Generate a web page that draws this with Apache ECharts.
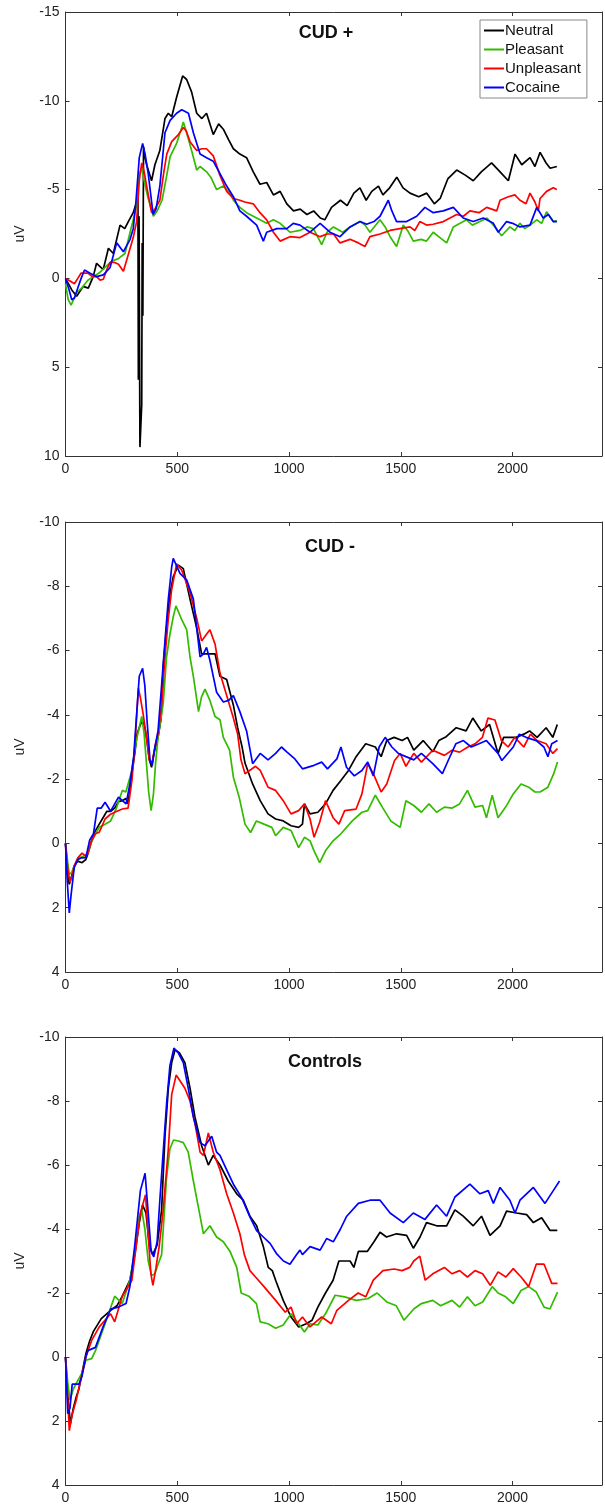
<!DOCTYPE html>
<html>
<head>
<meta charset="utf-8">
<script src="https://cdn.jsdelivr.net/npm/echarts@6/dist/echarts.min.js"></script>
<style>
html,body{margin:0;padding:0;background:#fff;}
#chart{width:605px;height:1509px;}
</style>
</head>
<body>
<div id="chart"></div>
<script>
var conditionNames = ["Neutral","Pleasant","Unpleasant","Cocaine"];
var conditionColors = ["#000000","#33bb00","#ff0000","#0000ff"];
var xTicks = [0,500,1000,1500,2000];

// CUD + ([ms, uV])
var cudPosNeutral = [[0,0],[28,0.65],[50,1.0],[79,0.45],[102,0.55],[124,-0.1],[139,-0.85],[169,-0.5],[192,-1.7],[214,-1.4],[244,-3],[265,-2.8],[281,-3.2],[303,-3.7],[318,-4.3],[324,-4.8],[326,5.7],[329,-3.5],[333,9.5],[337,9.4],[341,7.1],[343,-2],[346,2.1],[349,-7.4],[356,-6.8],[363,-6.4],[385,-5.5],[400,-6.4],[422,-7.2],[445,-9.0],[460,-9.3],[475,-9.1],[497,-10.2],[524,-11.4],[542,-11.2],[564,-10.5],[587,-9.3],[610,-9.0],[631,-9.3],[661,-8.1],[685,-8.7],[706,-8.4],[730,-7.8],[751,-7.3],[780,-7.0],[810,-6.8],[840,-6.0],[870,-5.3],[900,-5.4],[930,-4.7],[960,-4.9],[990,-4.2],[1020,-3.8],[1050,-3.9],[1080,-3.6],[1110,-3.8],[1140,-3.4],[1160,-3.3],[1190,-4.0],[1230,-4.4],[1260,-4.1],[1290,-4.8],[1317,-5.1],[1345,-4.4],[1370,-4.9],[1400,-5.2],[1420,-4.7],[1450,-5.1],[1482,-5.7],[1510,-5.1],[1541,-4.8],[1580,-4.6],[1616,-4.8],[1650,-4.2],[1676,-4.5],[1710,-5.6],[1750,-6.1],[1790,-5.8],[1824,-5.5],[1860,-6.0],[1906,-6.5],[1944,-6.0],[1981,-5.5],[2011,-7.0],[2041,-6.4],[2078,-6.8],[2100,-6.3],[2123,-7.1],[2150,-6.5],[2168,-6.2],[2198,-6.3]];
var cudPosPleasant = [[0,0.3],[12,1.2],[25,1.5],[50,0.8],[75,0.5],[100,0.1],[125,-0.1],[150,-0.3],[184,-0.7],[210,-1.0],[235,-1.1],[266,-1.4],[289,-2.6],[303,-3.3],[318,-4.1],[330,-5.9],[341,-6.2],[355,-5.3],[370,-4.5],[393,-3.5],[410,-3.8],[432,-4.4],[450,-5.6],[468,-6.85],[497,-7.6],[520,-8.5],[527,-8.8],[542,-8.2],[564,-7.2],[587,-6.1],[602,-6.3],[631,-6.0],[650,-5.7],[676,-5.0],[706,-5.2],[736,-4.8],[751,-4.4],[780,-4.0],[810,-3.7],[840,-3.5],[870,-3.3],[900,-3.1],[930,-3.3],[960,-3.1],[1004,-2.6],[1049,-2.7],[1080,-2.9],[1109,-2.8],[1146,-1.9],[1170,-2.6],[1199,-2.9],[1240,-2.6],[1273,-2.9],[1318,-3.2],[1340,-3.0],[1362,-2.6],[1407,-3.3],[1430,-2.9],[1452,-2.35],[1481,-1.8],[1511,-3.0],[1530,-2.7],[1556,-2.1],[1590,-2.2],[1615,-2.1],[1645,-2.6],[1675,-2.3],[1705,-2.0],[1735,-2.9],[1765,-3.1],[1794,-3.3],[1820,-3.0],[1854,-3.2],[1885,-3.4],[1914,-3.0],[1951,-2.4],[1988,-2.9],[2010,-2.7],[2033,-3.1],[2055,-2.8],[2078,-3.0],[2108,-3.3],[2130,-3.1],[2152,-3.75],[2182,-3.2],[2198,-3.25]];
var cudPosUnpleasant = [[0,0],[15,0.1],[40,0.3],[55,0.0],[70,-0.3],[100,-0.3],[120,-0.1],[139,-0.1],[155,0.1],[169,0.05],[185,-0.5],[199,-0.9],[220,-0.9],[237,-0.8],[259,-0.4],[281,-1.35],[303,-2.3],[318,-3.2],[330,-5.5],[341,-6.5],[352,-6.0],[363,-5.2],[385,-3.7],[400,-3.9],[422,-4.4],[440,-6.0],[453,-7.0],[475,-7.7],[505,-8.1],[527,-8.5],[540,-8.3],[557,-7.7],[587,-7.2],[610,-7.3],[631,-7.3],[661,-6.9],[691,-5.8],[721,-4.9],[751,-4.5],[780,-4.4],[802,-4.3],[840,-4.2],[870,-3.7],[900,-3.3],[930,-2.6],[960,-2.1],[1004,-2.35],[1049,-2.3],[1094,-2.6],[1139,-2.35],[1170,-2.5],[1199,-2.5],[1228,-2.0],[1273,-2.2],[1310,-2.0],[1340,-1.8],[1362,-2.35],[1407,-2.5],[1452,-2.7],[1496,-2.8],[1541,-2.9],[1563,-2.7],[1585,-3.2],[1615,-3.0],[1645,-3.05],[1690,-3.2],[1720,-3.4],[1750,-3.6],[1780,-3.5],[1809,-3.8],[1850,-3.7],[1884,-4.0],[1929,-3.8],[1944,-4.4],[1981,-4.6],[2010,-4.7],[2033,-4.4],[2060,-4.2],[2078,-4.8],[2100,-4.3],[2115,-3.8],[2123,-4.5],[2152,-4.9],[2182,-5.1],[2198,-5.0]];
var cudPosCocaine = [[0,0],[15,0.6],[28,1.2],[40,1.1],[56,0.5],[70,0.0],[85,-0.47],[108,-0.3],[139,-0.1],[169,-0.2],[199,-0.6],[229,-2.0],[259,-1.5],[289,-2.2],[303,-2.8],[315,-4.3],[330,-6.8],[345,-7.6],[356,-7.0],[370,-5.9],[392,-3.6],[405,-3.9],[422,-5.2],[445,-8.2],[468,-8.9],[497,-9.3],[520,-9.5],[550,-9.3],[572,-8.2],[602,-7.0],[631,-6.8],[661,-6.6],[691,-5.9],[721,-5.2],[751,-4.6],[780,-3.8],[810,-3.5],[855,-3.0],[885,-2.1],[900,-2.6],[945,-2.8],[990,-2.8],[1019,-3.1],[1049,-3.0],[1094,-2.6],[1139,-3.1],[1183,-2.6],[1228,-2.35],[1273,-2.9],[1318,-3.2],[1347,-3.05],[1380,-3.2],[1407,-3.5],[1444,-4.4],[1460,-3.8],[1481,-3.2],[1526,-3.2],[1571,-3.5],[1608,-4.0],[1645,-3.7],[1690,-3.8],[1735,-4.0],[1779,-3.4],[1824,-3.2],[1869,-3.4],[1914,-3.1],[1936,-2.6],[1973,-3.2],[2000,-3.1],[2033,-2.9],[2078,-3.0],[2108,-4.0],[2137,-3.4],[2160,-3.6],[2182,-3.2],[2198,-3.2]];

// CUD -
var cudNegNeutral = [[0,0],[10,1.0],[17,1.27],[28,1.0],[39,0.7],[55,0.55],[74,0.6],[91,0.5],[100,0.33],[117,-0.08],[134,-0.4],[151,-0.6],[168,-0.8],[185,-1.0],[202,-1.0],[220,-1.1],[237,-1.3],[254,-1.33],[270,-1.4],[280,-1.23],[297,-2.2],[310,-2.8],[320,-3.4],[335,-3.7],[345,-3.8],[355,-3.6],[365,-3.2],[375,-2.6],[385,-2.37],[395,-2.8],[414,-3.3],[428,-3.9],[437,-5.5],[452,-6.7],[466,-7.7],[482,-8.3],[505,-8.66],[527,-8.55],[557,-7.6],[587,-6.7],[609,-5.9],[630,-5.9],[646,-5.9],[669,-5.9],[691,-5.2],[721,-5.1],[751,-4.3],[770,-3.6],[790,-3.0],[803,-2.5],[837,-1.85],[871,-1.33],[906,-0.92],[940,-0.76],[974,-0.7],[1009,-0.55],[1043,-0.5],[1060,-0.6],[1069,-1.23],[1094,-0.92],[1129,-0.97],[1163,-1.23],[1197,-1.65],[1232,-1.96],[1266,-2.27],[1300,-2.7],[1343,-3.1],[1386,-3.0],[1412,-2.7],[1437,-3.2],[1470,-3.3],[1506,-3.2],[1530,-3.3],[1558,-2.9],[1600,-3.2],[1643,-2.85],[1670,-3.2],[1703,-3.32],[1748,-3.6],[1792,-3.5],[1822,-3.9],[1860,-3.5],[1897,-3.7],[1935,-2.8],[1960,-3.3],[2016,-3.3],[2050,-3.4],[2076,-3.5],[2110,-3.3],[2150,-3.6],[2180,-3.3],[2200,-3.7]];
var cudNegPleasant = [[0,0],[10,0.6],[17,0.96],[28,0.9],[39,0.7],[55,0.5],[65,0.44],[80,0.4],[100,0.3],[117,-0.05],[134,-0.3],[151,-0.5],[177,-0.6],[202,-0.7],[228,-1.1],[254,-1.65],[270,-1.6],[297,-2.27],[310,-2.9],[320,-3.3],[333,-3.7],[341,-3.95],[352,-3.4],[362,-2.5],[372,-1.6],[383,-1.02],[393,-1.5],[403,-2.5],[414,-3.3],[437,-4.35],[452,-5.8],[467,-6.5],[482,-7.05],[494,-7.39],[520,-6.96],[542,-6.65],[557,-5.8],[572,-5.2],[595,-4.1],[609,-4.57],[624,-4.8],[646,-4.45],[669,-3.95],[691,-3.85],[706,-3.3],[734,-2.9],[751,-2.06],[777,-1.44],[803,-0.6],[828,-0.34],[854,-0.7],[888,-0.6],[923,-0.5],[940,-0.24],[974,-0.5],[1009,-0.4],[1043,0.13],[1069,-0.19],[1094,-0.08],[1112,0.23],[1137,0.6],[1163,0.23],[1197,-0.08],[1232,-0.3],[1283,-0.7],[1326,-0.97],[1352,-1.02],[1386,-1.5],[1420,-1.1],[1455,-0.7],[1497,-0.5],[1523,-1.33],[1558,-1.18],[1592,-0.97],[1626,-1.23],[1660,-0.97],[1695,-1.13],[1730,-1.1],[1763,-1.23],[1798,-1.65],[1832,-1.13],[1866,-1.18],[1883,-0.8],[1909,-1.5],[1935,-0.8],[1969,-1.13],[2003,-1.54],[2038,-1.85],[2072,-1.75],[2100,-1.6],[2123,-1.6],[2158,-1.75],[2184,-2.17],[2201,-2.53]];
var cudNegUnpleasant = [[0,0],[10,0.8],[20,1.2],[30,1.0],[39,0.7],[55,0.45],[74,0.3],[91,0.4],[100,0.3],[117,-0.1],[134,-0.3],[151,-0.35],[177,-0.76],[200,-0.9],[220,-0.97],[254,-1.07],[280,-1.1],[297,-1.95],[310,-3.0],[326,-4.83],[336,-4.5],[348,-4.0],[360,-3.4],[375,-2.6],[388,-2.5],[400,-3.0],[414,-3.4],[430,-4.3],[445,-5.8],[460,-7.0],[475,-7.9],[497,-8.7],[520,-8.5],[557,-7.8],[587,-7.0],[609,-6.3],[630,-6.5],[646,-6.65],[669,-6.2],[691,-5.3],[721,-4.6],[751,-3.9],[770,-3.4],[785,-2.6],[803,-2.17],[830,-2.3],[850,-2.4],[871,-2.27],[906,-1.75],[940,-1.65],[974,-1.33],[1009,-0.92],[1043,-1.02],[1069,-1.23],[1094,-0.76],[1112,-0.19],[1137,-0.66],[1163,-1.33],[1197,-0.8],[1223,-0.6],[1249,-1.02],[1300,-1.07],[1326,-1.54],[1352,-2.48],[1377,-2.17],[1412,-1.6],[1437,-1.85],[1472,-2.58],[1497,-2.8],[1523,-2.4],[1558,-2.8],[1592,-2.53],[1643,-2.9],[1695,-2.74],[1729,-2.9],[1763,-2.84],[1800,-3.0],[1832,-3.1],[1865,-3.3],[1890,-3.9],[1921,-3.84],[1950,-3.2],[1980,-3.0],[2010,-3.3],[2050,-3.0],[2080,-3.4],[2110,-3.2],[2150,-3.1],[2180,-2.8],[2201,-2.95]];
var cudNegCocaine = [[0,0],[8,1.2],[17,2.16],[25,1.6],[39,0.75],[55,0.5],[70,0.45],[91,0.44],[108,-0.1],[125,-0.3],[142,-1.1],[160,-1.1],[177,-1.28],[202,-1.0],[237,-1.44],[271,-1.23],[288,-1.85],[305,-2.7],[318,-4.0],[330,-5.2],[345,-5.45],[355,-4.9],[365,-3.8],[378,-2.6],[388,-2.43],[400,-3.0],[414,-3.5],[428,-4.75],[445,-6.3],[460,-7.6],[475,-8.6],[482,-8.87],[512,-8.4],[542,-8.2],[572,-7.6],[602,-5.8],[617,-5.9],[631,-6.1],[646,-5.7],[676,-4.7],[706,-4.4],[730,-4.45],[751,-4.6],[780,-4.1],[810,-3.5],[837,-2.48],[871,-2.8],[906,-2.6],[940,-2.8],[966,-3.0],[991,-2.84],[1026,-2.63],[1060,-2.32],[1112,-2.43],[1146,-2.53],[1172,-2.32],[1214,-2.63],[1232,-3.0],[1257,-2.37],[1292,-2.1],[1326,-2.27],[1352,-2.53],[1377,-2.1],[1403,-3.0],[1430,-3.3],[1460,-3.0],[1489,-2.8],[1523,-2.7],[1558,-2.6],[1592,-2.8],[1643,-2.48],[1686,-2.17],[1712,-2.58],[1746,-3.1],[1780,-3.2],[1815,-3.0],[1850,-3.1],[1883,-3.2],[1935,-2.8],[1952,-2.58],[2003,-3.0],[2030,-3.4],[2060,-3.3],[2106,-3.2],[2140,-3.0],[2158,-2.7],[2175,-3.1],[2201,-3.2]];

// Controls
var ctrlNeutral = [[0,0],[10,1.2],[22,2.08],[35,1.6],[48,1.25],[60,1.0],[74,0.5],[91,-0.1],[108,-0.5],[125,-0.8],[160,-1.2],[202,-1.46],[230,-1.6],[254,-1.9],[288,-2.4],[310,-3.2],[330,-4.2],[345,-4.75],[360,-4.5],[375,-3.5],[390,-3.2],[410,-3.5],[430,-4.6],[445,-6.9],[460,-8.4],[475,-9.2],[490,-9.6],[510,-9.5],[534,-9.2],[557,-8.4],[579,-7.5],[609,-6.6],[639,-6.0],[661,-6.3],[691,-6.0],[728,-5.5],[766,-5.1],[795,-4.9],[825,-4.4],[855,-4.1],[885,-3.45],[907,-2.8],[925,-2.7],[940,-2.4],[974,-1.77],[1009,-1.25],[1043,-0.94],[1077,-1.04],[1103,-1.15],[1129,-1.56],[1163,-2.0],[1197,-2.4],[1223,-3.0],[1250,-3.0],[1273,-3.0],[1290,-2.8],[1310,-3.3],[1350,-3.3],[1380,-3.6],[1407,-3.9],[1436,-3.75],[1481,-3.85],[1526,-3.8],[1556,-3.4],[1586,-3.75],[1615,-4.2],[1660,-4.1],[1705,-4.1],[1742,-4.6],[1779,-4.4],[1824,-4.1],[1861,-4.4],[1899,-3.8],[1944,-4.1],[1973,-4.56],[2018,-4.5],[2063,-4.45],[2093,-4.2],[2130,-4.35],[2167,-3.96],[2200,-3.96]];
var ctrlPleasant = [[0,0],[10,0.8],[20,1.35],[35,1.0],[50,0.8],[74,0.5],[91,0.1],[117,0.05],[134,-0.2],[155,-0.6],[177,-1.04],[200,-1.5],[220,-1.9],[254,-1.67],[288,-2.4],[310,-3.3],[330,-4.4],[341,-4.6],[355,-4.0],[370,-3.0],[385,-2.55],[400,-2.6],[414,-2.9],[430,-3.2],[452,-5.6],[467,-6.5],[483,-6.78],[505,-6.75],[527,-6.7],[549,-6.4],[572,-5.5],[594,-4.7],[617,-3.85],[646,-4.1],[676,-3.75],[706,-3.6],[736,-3.3],[766,-2.8],[786,-2.0],[820,-1.9],[854,-1.67],[871,-1.1],[906,-1.04],[940,-0.9],[974,-1.0],[1009,-1.35],[1043,-1.04],[1069,-0.78],[1094,-1.04],[1129,-1.0],[1163,-1.35],[1206,-1.93],[1249,-1.88],[1300,-1.77],[1352,-1.82],[1394,-2.0],[1437,-1.72],[1480,-1.6],[1514,-1.15],[1558,-1.5],[1592,-1.67],[1643,-1.77],[1678,-1.6],[1729,-1.77],[1763,-1.56],[1798,-1.88],[1832,-1.6],[1866,-1.72],[1909,-2.2],[1935,-2.0],[1969,-1.88],[2003,-1.67],[2038,-2.08],[2072,-2.2],[2106,-2.03],[2141,-1.56],[2167,-1.5],[2201,-2.03]];
var ctrlUnpleasant = [[0,0],[10,1.3],[17,2.3],[30,1.8],[48,1.35],[65,0.8],[91,0.0],[117,-0.52],[151,-0.94],[202,-1.35],[220,-1.1],[254,-1.9],[297,-2.4],[315,-3.4],[335,-4.5],[358,-5.07],[370,-3.8],[382,-2.6],[391,-2.24],[405,-2.8],[420,-3.5],[437,-4.6],[460,-6.5],[475,-8.2],[495,-8.81],[515,-8.6],[534,-8.4],[557,-8.0],[579,-7.3],[602,-6.4],[617,-6.3],[639,-7.0],[661,-6.4],[691,-5.85],[721,-5.1],[751,-4.5],[780,-3.85],[800,-3.2],[825,-2.7],[850,-2.5],[888,-2.2],[940,-1.77],[983,-1.4],[1009,-1.56],[1034,-1.04],[1060,-1.25],[1094,-0.94],[1120,-1.1],[1146,-1.25],[1189,-1.04],[1214,-1.46],[1266,-1.77],[1309,-2.0],[1343,-1.88],[1377,-2.4],[1420,-2.7],[1470,-2.75],[1506,-2.7],[1540,-2.8],[1558,-3.0],[1585,-3.15],[1609,-2.4],[1643,-2.6],[1695,-2.8],[1729,-2.6],[1763,-2.7],[1798,-2.5],[1832,-2.7],[1866,-2.6],[1900,-2.24],[1935,-2.66],[1970,-2.5],[2003,-2.76],[2038,-2.5],[2072,-2.2],[2106,-2.9],[2141,-2.9],[2175,-2.3],[2201,-2.3]];
var ctrlCocaine = [[0,0],[10,1.77],[20,1.6],[30,0.85],[48,0.85],[60,0.85],[74,0.6],[91,0.0],[100,-0.2],[134,-0.3],[168,-0.94],[202,-1.5],[237,-1.56],[271,-1.67],[288,-2.2],[310,-3.5],[335,-5.2],[356,-5.74],[370,-4.5],[383,-3.3],[395,-3.13],[410,-3.6],[422,-4.9],[437,-6.4],[452,-7.9],[467,-9.1],[485,-9.65],[505,-9.5],[527,-9.2],[549,-8.4],[572,-7.5],[602,-6.7],[624,-6.6],[654,-6.9],[676,-6.4],[691,-6.3],[721,-5.85],[751,-5.4],[788,-4.98],[825,-4.38],[855,-3.95],[885,-3.75],[915,-3.55],[945,-3.22],[975,-3.0],[1004,-2.9],[1034,-3.2],[1049,-3.34],[1060,-3.2],[1094,-3.45],[1139,-3.34],[1168,-3.7],[1198,-3.6],[1230,-4.0],[1258,-4.4],[1310,-4.8],[1362,-4.9],[1407,-4.9],[1452,-4.5],[1511,-4.2],[1556,-4.5],[1608,-4.3],[1660,-4.75],[1705,-4.4],[1742,-5.0],[1809,-5.4],[1854,-5.1],[1891,-5.2],[1914,-4.8],[1944,-5.3],[1988,-4.9],[2011,-4.5],[2033,-4.9],[2093,-5.3],[2145,-4.8],[2182,-5.2],[2210,-5.5]];

var panels = [
  {title:"CUD +", titleX:326, titleY:33, top:12, height:444, yMin:-15, yMax:10, yStep:5,
   data:[cudPosNeutral,cudPosPleasant,cudPosUnpleasant,cudPosCocaine]},
  {title:"CUD -", titleX:330, titleY:547, top:522, height:450, yMin:-10, yMax:4, yStep:2,
   data:[cudNegNeutral,cudNegPleasant,cudNegUnpleasant,cudNegCocaine]},
  {title:"Controls", titleX:325, titleY:1062, top:1037, height:448, yMin:-10, yMax:4, yStep:2,
   data:[ctrlNeutral,ctrlPleasant,ctrlUnpleasant,ctrlCocaine]}
];

var font = "Liberation Sans";
var axisColor = "#333";

var grids = [], xAxes = [], yAxes = [], series = [], texts = [];

function boxLine(){
  return {show:true, onZero:false, lineStyle:{color:axisColor, width:1}};
}
function inTick(){
  return {show:true, inside:true, length:4, lineStyle:{color:axisColor}};
}

panels.forEach(function(p, i){
  grids.push({left:65.5, width:536.5, top:p.top, height:p.height});

  // bottom + top x axes
  xAxes.push({
    type:"value", gridIndex:i, position:"bottom", min:0, max:2400, interval:500,
    axisLine:boxLine(), axisTick:inTick(), splitLine:{show:false},
    axisLabel:{
      fontFamily:font, fontSize:14, color:"#222", margin:6,
      showMaxLabel:false,
      formatter:function(v){ return xTicks.indexOf(v) >= 0 ? String(v) : ""; }
    }
  });
  xAxes.push({
    type:"value", gridIndex:i, position:"top", min:0, max:2400, interval:500,
    axisLine:boxLine(), axisTick:inTick(),
    axisLabel:{show:false}, splitLine:{show:false}
  });

  // left + right y axes (reversed, negative up)
  yAxes.push({
    type:"value", gridIndex:i, position:"left", inverse:true, min:p.yMin, max:p.yMax, interval:p.yStep,
    name:"uV", nameLocation:"middle", nameGap:38,
    nameTextStyle:{fontFamily:font, fontSize:14, color:"#222"},
    axisLine:boxLine(), axisTick:inTick(), splitLine:{show:false},
    axisLabel:{fontFamily:font, fontSize:14, color:"#222", margin:6}
  });
  yAxes.push({
    type:"value", gridIndex:i, position:"right", inverse:true, min:p.yMin, max:p.yMax, interval:p.yStep,
    axisLine:boxLine(), axisTick:inTick(),
    axisLabel:{show:false}, splitLine:{show:false}
  });

  p.data.forEach(function(d, k){
    series.push({
      name:conditionNames[k], type:"line",
      xAxisIndex:i*2, yAxisIndex:i*2,
      data:d, symbol:"none", smooth:false,
      lineStyle:{color:conditionColors[k], width:1.7},
      itemStyle:{color:conditionColors[k]}
    });
  });

  texts.push({
    type:"text", x:p.titleX, y:p.titleY,
    style:{text:p.title, font:"bold 18px '" + font + "'", fill:"#111",
      textAlign:"center", textVerticalAlign:"middle", align:"center", verticalAlign:"middle"}
  });
});

var chart = echarts.init(document.getElementById("chart"));

chart.setOption({
  animation:false,
  backgroundColor:"#fff",
  grid:grids,
  xAxis:xAxes,
  yAxis:yAxes,
  legend:{
    data:conditionNames,
    orient:"vertical",
    left:480, top:20,
    icon:"rect",
    itemWidth:20, itemHeight:2, itemGap:2,
    padding:[2,6,2,4],
    borderColor:"#888", borderWidth:1,
    backgroundColor:"#fff",
    textStyle:{fontFamily:font, fontSize:15, color:"#111", padding:[0,0,0,-4], lineHeight:17}
  },
  graphic:texts,
  series:series
});
</script>
</body>
</html>
